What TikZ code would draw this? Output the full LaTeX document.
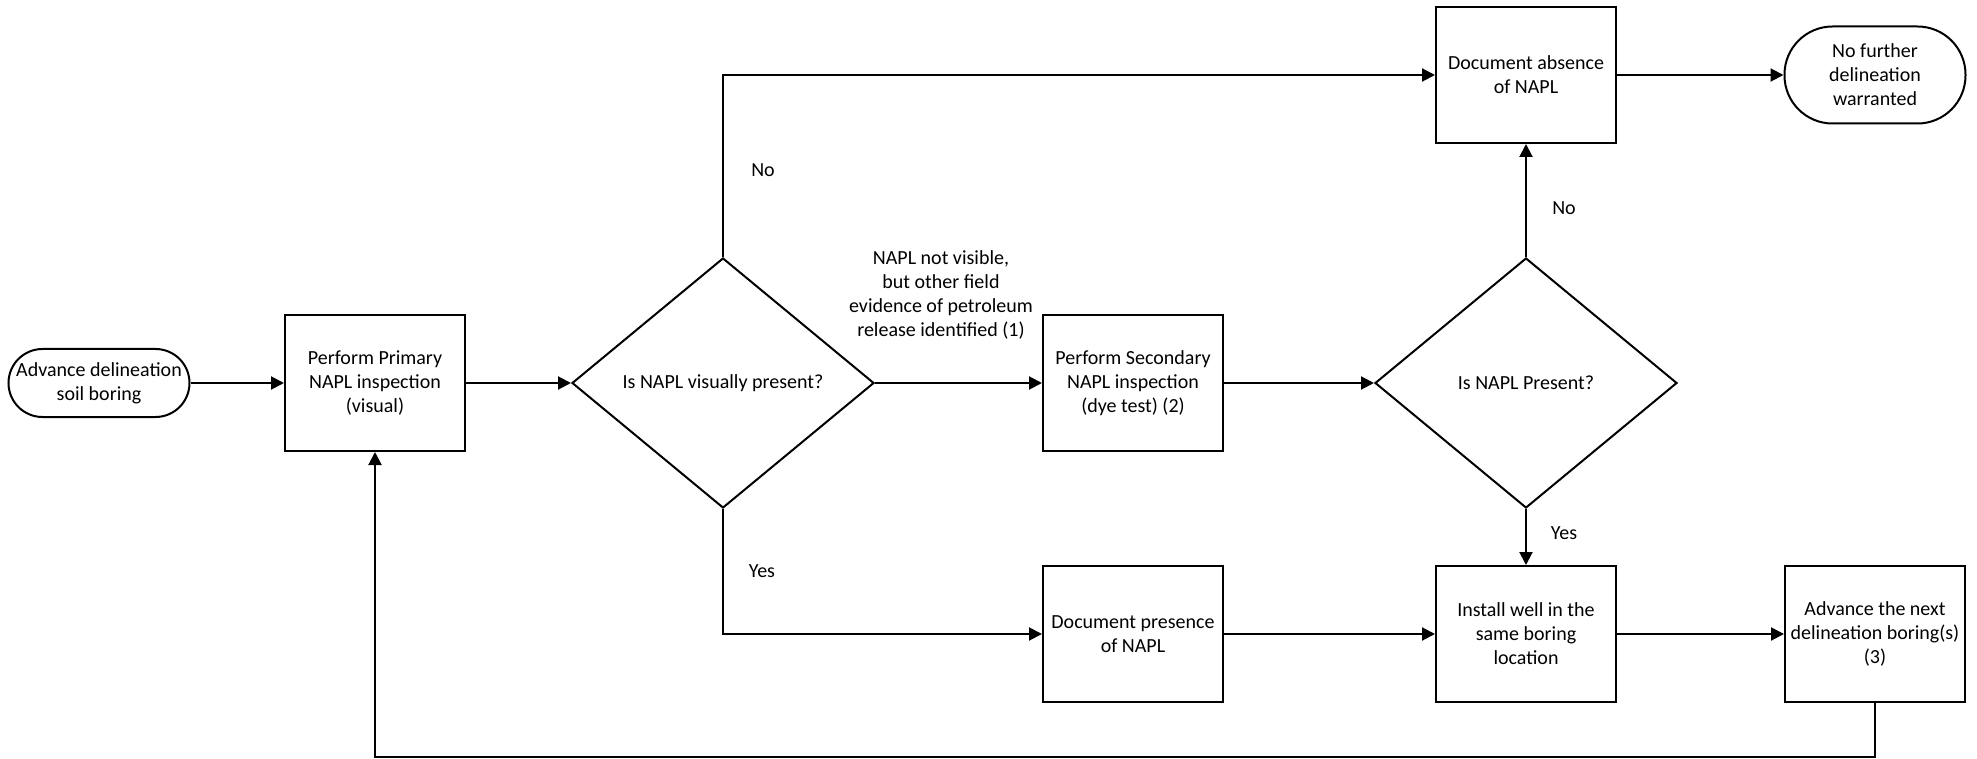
\documentclass[tikz,border=0pt]{standalone}
\usepackage{fontspec}
\setmainfont{Carlito}
\usetikzlibrary{arrows.meta,shapes.geometric}

\begin{document}
\begin{tikzpicture}[x=0.5pt,y=0.5pt,yscale=-1,
  line width=1pt,
  procbox/.style={draw,rectangle,minimum width=90pt,minimum height=68pt,align=center,inner sep=2pt},
  termbox/.style={draw,rectangle,align=center,inner sep=2pt,minimum width=90.5pt},
  decbox/.style={draw,diamond,minimum width=151pt,minimum height=125pt,inner sep=0pt,aspect=1.2,align=center},
  arr/.style={-{Triangle[length=6.5pt,width=6.5pt]}},
  lbl/.style={align=center,inner sep=0pt}]
\useasboundingbox (0,0) rectangle (1977,759);

%Shape: Terminal [id:start]
\node [termbox,minimum height=34pt,rounded corners=17pt] (start) at (99,383) {Advance delineation\\soil boring};
%Shape: Rectangle [id:primary]
\node [procbox] (primary) at (375,383) {Perform Primary\\NAPL inspection\\(visual)};
%Shape: Diamond [id:dec1]
\node [decbox] (dec1) at (723,383) {Is NAPL visually present?};
%Shape: Rectangle [id:secondary]
\node [procbox] (secondary) at (1133,383) {Perform Secondary\\NAPL inspection\\(dye test) (2)};
%Shape: Diamond [id:dec2]
\node [decbox] (dec2) at (1526,383) {Is NAPL Present?};
%Shape: Rectangle [id:absence]
\node [procbox] (absence) at (1526,75) {Document absence\\of NAPL};
%Shape: Terminal [id:nofurther]
\node [termbox,minimum height=48.5pt,rounded corners=24pt] (nofurther) at (1875,75) {No further\\delineation\\warranted};
%Shape: Rectangle [id:presence]
\node [procbox] (presence) at (1133,634) {Document presence\\of NAPL};
%Shape: Rectangle [id:install]
\node [procbox] (install) at (1526,634) {Install well in the\\same boring\\location};
%Shape: Rectangle [id:nextboring]
\node [procbox] (nextboring) at (1875,634) {Advance the next\\delineation boring(s)\\(3)};

% Bend point of the loop back
\coordinate (loopend) at (1875,757);

%Straight Lines
\draw [arr] (start) -- (primary);
\draw [arr] (primary) -- (dec1);
\draw [arr] (dec1) -- (secondary);
\draw [arr] (secondary) -- (dec2);
\draw [arr] (dec1.north) |- (absence.west);
\draw [arr] (dec1.south) |- (presence.west);
\draw [arr] (dec2) -- (absence);
\draw [arr] (dec2) -- (install);
\draw [arr] (absence) -- (nofurther);
\draw [arr] (presence) -- (install);
\draw [arr] (install) -- (nextboring);
\draw [arr] (nextboring.south) -- (loopend) -| (primary.south);

% Text Node
\node [lbl] (nolbla) at (763,170) {No};
% Text Node
\node [lbl] (yeslbla) at (762,571) {Yes};
% Text Node
\node [lbl] (nolblb) at (1564,208) {No};
% Text Node
\node [lbl] (yeslblb) at (1564,533) {Yes};
% Text Node
\node [lbl] (notvisible) at (941,295) {NAPL not visible,\\but other field\\evidence of petroleum\\release identified (1)};

\end{tikzpicture}
\end{document}
